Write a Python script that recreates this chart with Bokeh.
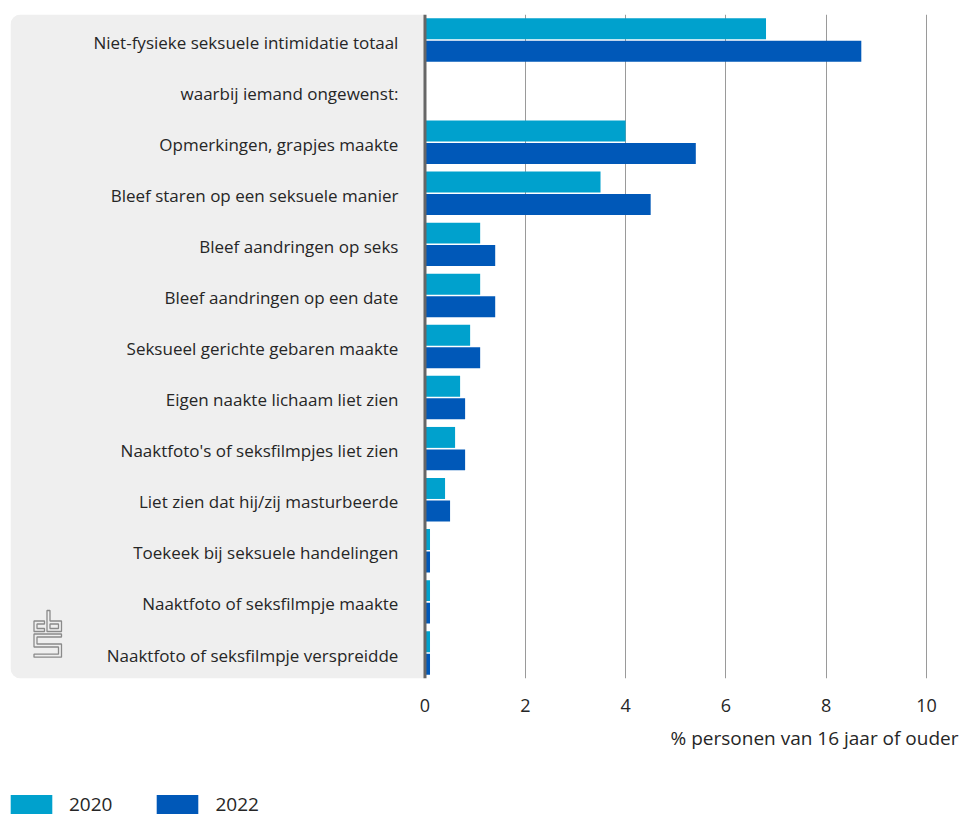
from bokeh.plotting import figure
from bokeh.layouts import column
from bokeh.models import (ColumnDataSource, FactorRange, Range1d, FixedTicker, Span,
                          BoxAnnotation, Label, Legend, LegendItem)
from bokeh.transform import dodge
from bokeh.core.properties import value
from bokeh.embed import file_html
from bokeh.resources import INLINE

NAN = float("nan")

categories = [
    "Niet-fysieke seksuele intimidatie totaal",
    "waarbij iemand ongewenst:",
    "Opmerkingen, grapjes maakte",
    "Bleef staren op een seksuele manier",
    "Bleef aandringen op seks",
    "Bleef aandringen op een date",
    "Seksueel gerichte gebaren maakte",
    "Eigen naakte lichaam liet zien",
    "Naaktfoto's of seksfilmpjes liet zien",
    "Liet zien dat hij/zij masturbeerde",
    "Toekeek bij seksuele handelingen",
    "Naaktfoto of seksfilmpje maakte",
    "Naaktfoto of seksfilmpje verspreidde",
]
values_2020 = [6.8, NAN, 4.0, 3.5, 1.1, 1.1, 0.9, 0.7, 0.6, 0.4, 0.1, 0.1, 0.1]
values_2022 = [8.7, NAN, 5.4, 4.5, 1.4, 1.4, 1.1, 0.8, 0.8, 0.5, 0.1, 0.1, 0.1]
series_names = ["2020", "2022"]
x_ticks = [0, 2, 4, 6, 8, 10]
x_title = "% personen van 16 jaar of ouder"

C2020 = "#00a1cd"
C2022 = "#0058b8"
TXT = "#262626"
FONT = "Open Sans"

source = ColumnDataSource(dict(cat=categories, v2020=values_2020, v2022=values_2022))

W = 961
H1, H2 = 718, 100
X0, X1 = -8.265, 10.658

p = figure(width=W, height=H1, output_backend="svg", toolbar_location=None,
           x_range=Range1d(X0, X1),
           y_range=FactorRange(factors=list(reversed(categories))),
           y_axis_location=None, min_border_left=10, min_border_right=2,
           min_border_top=14, min_border_bottom=40)
p.outline_line_color = None
p.background_fill_color = "white"
p.border_fill_color = "white"

# grey label panel
panel = BoxAnnotation(left=X0, right=0, bottom=0, top=len(categories),
                      fill_color="#efefef", fill_alpha=1, line_color=None,
                      border_radius=(10, 0, 0, 10), level="underlay")
p.add_layout(panel)

# grid
p.ygrid.grid_line_color = None
p.xgrid.ticker = FixedTicker(ticks=x_ticks[1:])
p.xgrid.grid_line_color = "#9a9a9a"
p.xgrid.grid_line_width = 1

# bars
r20 = p.hbar(y=dodge("cat", 0.22, range=p.y_range), left=0, right="v2020", height=0.41,
             source=source, fill_color=C2020, line_color=None)
r22 = p.hbar(y=dodge("cat", -0.22, range=p.y_range), left=0, right="v2022", height=0.41,
             source=source, fill_color=C2022, line_color=None)

# zero axis line
p.add_layout(Span(location=0, dimension="height", line_color="#666666", line_width=3))

# category labels
p.text(x=-0.53, y=dodge("cat", -0.04, range=p.y_range), text="cat", source=source,
       text_align="right", text_baseline="middle", text_color=TXT,
       text_font=value(FONT), text_font_size=value("17px"))

# x axis
ax = p.xaxis[0]
ax.ticker = FixedTicker(ticks=x_ticks)
ax.axis_line_color = None
ax.major_tick_line_color = None
ax.minor_tick_line_color = None
ax.major_tick_out = 0
ax.major_label_standoff = 20
ax.major_label_text_font = FONT
ax.major_label_text_font_size = "18px"
ax.major_label_text_color = TXT

# CBS logo (decorative outline)
ROW = 664 / len(categories)
def tx(px):
    return (px - 424.5) / 50.15
def ty(py):
    return (678 - py) / ROW
ox, oy = 20, 600
shapes = [
    [(13.5, 20.5), (24, 20.5), (24, 23.5), (16.5, 23.5), (16.5, 28), (24, 28), (24, 31), (13.5, 31)],
    [(26.5, 10), (29.5, 10), (29.5, 20.5), (41, 20.5), (41, 31), (26.5, 31)],
    [(29.5, 23.5), (38, 23.5), (38, 28), (29.5, 28)],
    [(13.5, 33.5), (41, 33.5), (41, 36.5), (16.5, 36.5), (16.5, 43.5), (41, 43.5), (41, 56.7),
     (13.5, 56.7), (13.5, 53.7), (38, 53.7), (38, 46.5), (13.5, 46.5)],
]
p.patches(xs=[[tx(ox + a) for a, b in s] for s in shapes],
          ys=[[ty(oy + b) for a, b in s] for s in shapes],
          fill_alpha=0, line_color="#8a8a8a", line_width=1.3)

# bottom strip: axis title + legend (frame is aligned with the main plot's frame)
p2 = figure(width=W, height=H2, output_backend="svg", toolbar_location=None,
            x_range=Range1d(0, 1), y_range=Range1d(0, 1),
            x_axis_location=None, y_axis_location=None,
            min_border_left=0, min_border_right=0, min_border_top=0, min_border_bottom=0)
p2.outline_line_color = None
p2.xgrid.grid_line_color = None
p2.ygrid.grid_line_color = None
p2.border_fill_color = "white"

p2.add_layout(Label(x=948, y=81, x_units="screen", y_units="screen", text=x_title,
                    text_align="right", text_baseline="middle", text_color=TXT,
                    text_font=FONT, text_font_size="19px"))

# legend-only renderers (placed outside the visible range)
d20 = p2.hbar(y=[-5], left=[0], right=[0.5], height=0.1, fill_color=C2020, line_color=None)
d22 = p2.hbar(y=[-5], left=[0], right=[0.5], height=0.1, fill_color=C2022, line_color=None)
legend = Legend(items=[LegendItem(label=series_names[0], renderers=[d20]),
                       LegendItem(label=series_names[1], renderers=[d22])],
                orientation="horizontal", location=(-5, 1),
                glyph_width=52, glyph_height=24, label_height=24, label_standoff=12,
                spacing=39, padding=0, margin=0, border_line_color=None,
                background_fill_alpha=0, label_text_font=FONT,
                label_text_font_size="19px", label_text_color=TXT)
p2.add_layout(legend)

layout = column(p, p2, spacing=0)
open("out.html", "w").write(file_html(layout, INLINE))
